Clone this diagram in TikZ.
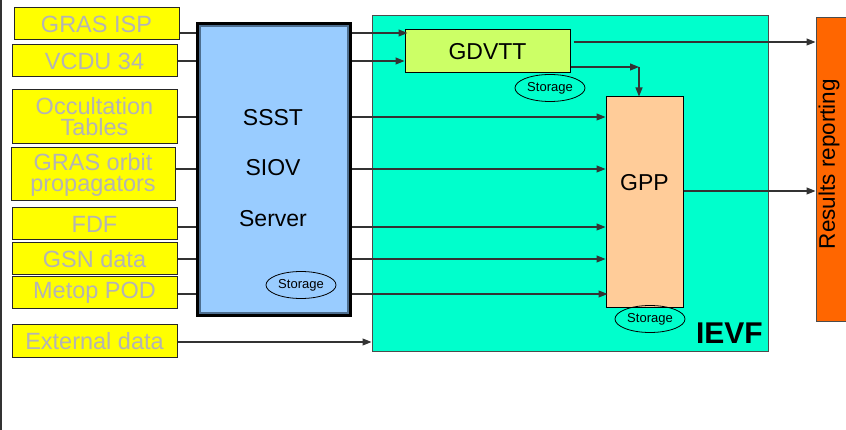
\documentclass[tikz,border=0pt]{standalone}
\usepackage{fontspec}
\setmainfont{Liberation Sans}
\usetikzlibrary{arrows.meta,shapes.geometric}
\definecolor{ylw}{HTML}{FFFF00}
\definecolor{ytxt}{HTML}{B4B4B4}
\definecolor{srvblue}{HTML}{99CCFF}
\definecolor{srvedge}{HTML}{4D6E8F}
\definecolor{ievfc}{HTML}{00FFCC}
\definecolor{gdvttc}{HTML}{CCFF66}
\definecolor{gppc}{HTML}{FFCC99}
\definecolor{resc}{HTML}{FF6600}
\definecolor{linec}{HTML}{333333}
\begin{document}
\begin{tikzpicture}[x=1pt,y=-1pt,
  inbox/.style={draw=black!85, line width=1pt, fill=ylw, text=ytxt, rectangle, inner sep=0pt, align=center,
    font=\fontsize{23.5}{21}\selectfont},
  store/.style={draw=black, line width=0.8pt, ellipse, inner sep=0pt, minimum width=70pt, minimum height=27pt,
    font=\fontsize{13}{13}\selectfont},
  link/.style={draw=linec, line width=1.1pt},
  arr/.style={link, -{Triangle[length=9pt,width=7pt]}},
  bigtxt/.style={font=\fontsize{23}{23}\selectfont}]
\useasboundingbox (0,0) rectangle (846,430);
% left border
\draw[linec, line width=1.5pt] (1,0) -- (1,430);
% IEVF area
\node[draw=black!70, line width=1pt, fill=ievfc, minimum width=396pt, minimum height=335pt, inner sep=0pt] (ievf) at (570,183.5) {};
\node[anchor=base east, font=\fontsize{30}{30}\selectfont\bfseries, inner sep=0pt] (ievflbl) at (763,343) {IEVF};
% results reporting
\node[draw=black!70, line width=1pt, fill=resc, minimum width=40pt, minimum height=304pt, inner sep=0pt] (res) at (836,170) {};
\node[rotate=90, font=\fontsize{22.5}{22.5}\selectfont, inner sep=0pt] (reslbl) at (829,164) {Results reporting};
% server
\node[fill=black, minimum width=156pt, minimum height=295pt, inner sep=0pt] (ssst) at (274,169.5) {};
\node[fill=srvblue, draw=srvedge, line width=1.5pt, minimum width=148pt, minimum height=287pt, inner sep=0pt] (ssstin) at (274,169.5) {};
\node[bigtxt] (t1) at (273,118) {SSST};
\node[bigtxt] (t2) at (273,168) {SIOV};
\node[bigtxt] (t3) at (273,219) {Server};
\node[store] (st1) at (301,285) {Storage};
% GDVTT and GPP
\node[draw=black, line width=1pt, fill=gdvttc, minimum width=165pt, minimum height=43pt, inner sep=0pt, bigtxt] (gdvtt) at (487.5,51.5) {GDVTT};
\node[store] (st2) at (550,88) {Storage};
\node[draw=black, line width=1pt, fill=gppc, minimum width=77pt, minimum height=211pt, inner sep=0pt] (gpp) at (644.5,202.5) {};
\node[bigtxt] (gpplbl) at (644.5,183) {GPP};
\node[store] (st3) at (650,319) {Storage};
% inputs
\node[inbox, minimum width=165pt, minimum height=32pt] (gras) at (96.5,24) {GRAS ISP};
\node[inbox, minimum width=165pt, minimum height=32pt] (vcdu) at (94.5,61) {VCDU 34};
\node[inbox, minimum width=165pt, minimum height=54pt] (occ) at (94.5,117) {Occultation\\Tables};
\node[inbox, minimum width=164pt, minimum height=53pt] (orb) at (93,174.5) {GRAS orbit\\propagators};
\node[inbox, minimum width=165pt, minimum height=32pt] (fdf) at (94.5,224) {FDF};
\node[inbox, minimum width=165pt, minimum height=32pt] (gsn) at (94.5,259) {GSN data};
\node[inbox, minimum width=165pt, minimum height=32pt] (pod) at (94.5,293) {Metop POD};
\node[inbox, minimum width=165pt, minimum height=32pt] (ext) at (94.5,341) {External data};
% left links into server
\draw[link] (gras.east |- 0,33) -- (ssst.west |- 0,33);
\draw[link] (vcdu.east |- 0,61) -- (ssst.west |- 0,61);
\draw[link] (occ.east |- 0,117) -- (ssst.west |- 0,117);
\draw[link] (orb.east |- 0,169) -- (ssst.west |- 0,169);
\draw[link] (fdf.east |- 0,227) -- (ssst.west |- 0,227);
\draw[link] (gsn.east |- 0,259) -- (ssst.west |- 0,259);
\draw[link] (pod.east |- 0,294) -- (ssst.west |- 0,294);
\draw[arr] (ext.east |- 0,342) -- (ievf.west |- 0,342);
% server to processors
\draw[arr] (ssst.east |- 0,33) -- ([xshift=3pt]gdvtt.west |- 0,33);
\draw[arr] (ssst.east |- 0,61) -- (gdvtt.west |- 0,61);
\draw[arr] (ssst.east |- 0,117) -- (gpp.west |- 0,117);
\draw[arr] (ssst.east |- 0,169) -- (gpp.west |- 0,169);
\draw[arr] (ssst.east |- 0,227) -- (gpp.west |- 0,227);
\draw[arr] (ssst.east |- 0,259) -- (gpp.west |- 0,259);
\draw[arr] (ssst.east |- 0,294) -- ([xshift=2pt]gpp.west |- 0,294);
% outputs
\coordinate (bend) at (639,67);
\draw[arr] (gdvtt.east |- 0,67) -- (bend);
\draw[arr] (bend) -- (gpp.north -| bend);
\draw[arr] ([xshift=3pt]gdvtt.east |- 0,42) -- (res.west |- 0,42);
\draw[arr] (gpp.east |- 0,191) -- (res.west |- 0,191);
\end{tikzpicture}
\end{document}
